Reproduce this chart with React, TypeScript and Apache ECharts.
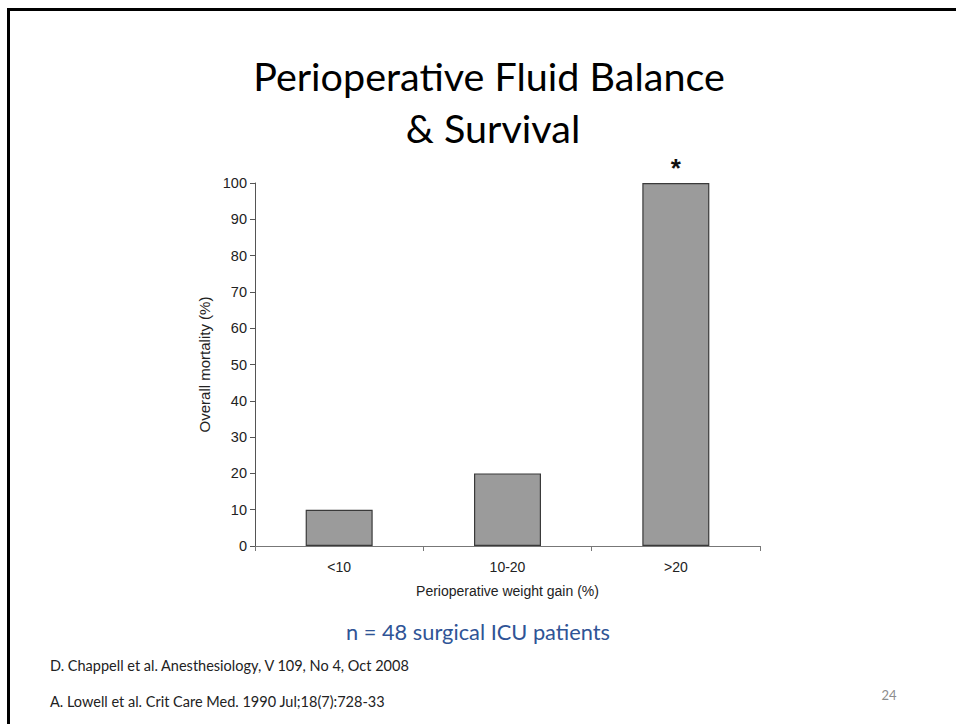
import React, { useEffect, useRef } from "react";
import * as echarts from "echarts";

const categories = ["<10", "10-20", ">20"];
const mortality = [10, 20, 100];
const significant = [false, false, true];
const yTicks = { min: 0, max: 100, interval: 10 };

const titleLines = ["Perioperative Fluid Balance", "& Survival"];
const subtitle = "n = 48 surgical ICU patients";
const references = [
  "D. Chappell et al. Anesthesiology, V 109, No 4, Oct 2008",
  "A. Lowell et al. Crit Care Med. 1990 Jul;18(7):728-33",
];
const pageNumber = "24";

export default function App() {
  const ref = useRef<HTMLDivElement>(null);
  useEffect(() => {
    if (!ref.current) return;
    const chart = echarts.init(ref.current, null, { renderer: "svg" });
    const axisFont = "Liberation Sans, Arial, sans-serif";
    const slideFont = "Lato, 'Open Sans', sans-serif";
    chart.setOption({
      animation: false,
      backgroundColor: "#ffffff",
      grid: { left: 255, right: 196, top: 183, bottom: 178, containLabel: false },
      xAxis: {
        type: "category",
        data: categories,
        name: "Perioperative weight gain (%)",
        nameLocation: "middle",
        nameGap: 38,
        nameTextStyle: { fontFamily: axisFont, fontSize: 14, color: "#222" },
        axisLine: { lineStyle: { color: "#777", width: 1 } },
        axisTick: { show: true, alignWithLabel: false, length: 5, inside: false, lineStyle: { color: "#777" } },
        axisLabel: { fontFamily: axisFont, fontSize: 14, color: "#222", margin: 14 },
      },
      yAxis: {
        type: "value",
        min: yTicks.min,
        max: yTicks.max,
        interval: yTicks.interval,
        name: "Overall mortality (%)",
        nameLocation: "middle",
        nameGap: 42,
        nameTextStyle: { fontFamily: axisFont, fontSize: 15, color: "#222" },
        axisLine: { show: true, lineStyle: { color: "#555", width: 1 } },
        axisTick: { show: true, length: 5, lineStyle: { color: "#555" } },
        axisLabel: { fontFamily: axisFont, fontSize: 14.5, color: "#222", margin: 8 },
        splitLine: { show: false },
      },
      series: [
        {
          type: "bar",
          barWidth: 67,
          data: mortality.map((v, i) => ({
            value: v,
            label: significant[i]
              ? {
                  show: true,
                  position: "top",
                  formatter: "*",
                  distance: 2,
                  fontSize: 26,
                  fontWeight: "bold",
                  fontFamily: axisFont,
                  color: "#111",
                }
              : { show: false },
          })),
          itemStyle: { color: "#9b9b9b", borderColor: "#3a3a3a", borderWidth: 1.2 },
        },
      ],
      graphic: [
        { type: "line", shape: { x1: 7, y1: 9.5, x2: 956, y2: 9.5 }, style: { stroke: "#000", lineWidth: 3 } },
        { type: "line", shape: { x1: 8.5, y1: 8, x2: 8.5, y2: 724 }, style: { stroke: "#000", lineWidth: 3 } },
        {
          type: "text",
          x: 489,
          y: 75,
          style: { text: titleLines[0], fontFamily: slideFont, fontSize: 39.5, fill: "#000", textAlign: "center", textVerticalAlign: "middle" },
        },
        {
          type: "text",
          x: 493,
          y: 127,
          style: { text: titleLines[1], fontFamily: slideFont, fontSize: 39.5, fill: "#000", textAlign: "center", textVerticalAlign: "middle" },
        },
        {
          type: "text",
          x: 478,
          y: 631,
          style: { text: subtitle, fontFamily: slideFont, fontSize: 21.8, fill: "#2f5496", textAlign: "center", textVerticalAlign: "middle" },
        },
        {
          type: "text",
          x: 50,
          y: 665,
          style: { text: references[0], fontFamily: slideFont, fontSize: 14.5, fill: "#222", textAlign: "left", textVerticalAlign: "middle" },
        },
        {
          type: "text",
          x: 50,
          y: 701,
          style: { text: references[1], fontFamily: slideFont, fontSize: 14.5, fill: "#222", textAlign: "left", textVerticalAlign: "middle" },
        },
        {
          type: "text",
          x: 889,
          y: 695,
          style: { text: pageNumber, fontFamily: slideFont, fontSize: 13, fill: "#8c8c8c", textAlign: "center", textVerticalAlign: "middle" },
        },
      ],
    });
    return () => chart.dispose();
  }, []);
  return (
    <div
      ref={ref}
      style={{ position: "fixed", left: 0, top: 0, width: 956, height: 724, background: "#fff" }}
    />
  );
}
